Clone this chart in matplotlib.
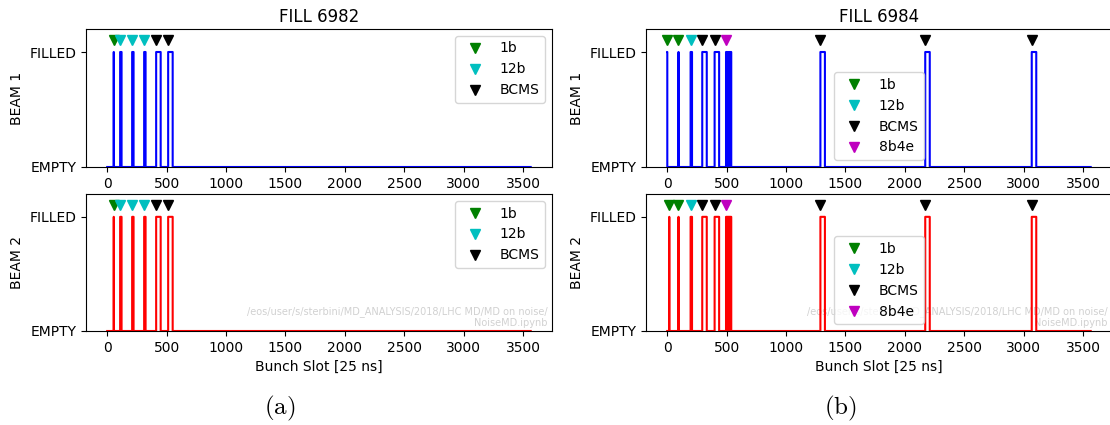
"""Filling schemes of fills 6982 and 6984, beam 1 / beam 2."""
import numpy as np
import matplotlib
matplotlib.use("Agg")
import matplotlib.pyplot as plt

plt.rcParams["mathtext.fontset"] = "cm"

N_SLOTS = 3564

# train start slots and train types
fill_6982_b1_starts = [55, 109, 210, 311, 412, 513]
fill_6982_b2_starts = [55, 109, 210, 311, 412, 513]
fill_6982_types = ["1b", "12b", "12b", "12b", "BCMS", "BCMS"]

fill_6984_b1_starts = [0, 95, 197, 295, 399, 495, 1289, 2171, 3067]
fill_6984_b2_starts = [17, 95, 197, 295, 399, 495, 1289, 2171, 3067]
fill_6984_types = ["1b", "1b", "12b", "BCMS", "BCMS", "8b4e", "BCMS", "BCMS", "BCMS"]

# bunch pattern of each train type (1 = filled slot)
train_patterns = {
    "1b": [1],
    "12b": [1] * 12,
    "BCMS": [1] * 38,
    "8b4e": ([1] * 8 + [0] * 4) * 3 + [1] * 8,
}
type_colors = {"1b": "g", "12b": "c", "BCMS": "k", "8b4e": "m"}
type_order = ["1b", "12b", "BCMS", "8b4e"]

WATERMARK = "/eos/user/s/sterbini/MD_ANALYSIS/2018/LHC MD/MD on noise/\nNoiseMD.ipynb"


def build_pattern(starts, types):
    pat = np.zeros(N_SLOTS)
    for s, t in zip(starts, types):
        p = train_patterns[t]
        pat[s:s + len(p)] = p
    return pat


def draw(ax, starts, types, color, legend_loc):
    pat = build_pattern(starts, types)
    ax.plot(np.arange(N_SLOTS), pat, color=color, lw=1.5, drawstyle="steps-post")
    for t in type_order:
        xs = [s for s, tt in zip(starts, types) if tt == t]
        if xs:
            ax.plot(xs, [1.1] * len(xs), "v", color=type_colors[t], ms=7,
                    ls="none", label=t)
    ax.set_xlim(-0.05 * N_SLOTS, 1.05 * N_SLOTS)
    ax.set_ylim(0, 1.2)
    ax.set_yticks([0, 1])
    ax.set_yticklabels(["EMPTY", "FILLED"])
    ax.set_xticks(np.arange(0, 3501, 500))
    ax.tick_params(labelsize=10)
    ax.legend(loc=legend_loc, fontsize=10)


fig = plt.figure(figsize=(11.1, 4.25), dpi=100)
W, H = 1110, 425
cols = [(86, "FILL 6982", fill_6982_b1_starts, fill_6982_b2_starts, fill_6982_types, "upper right"),
        (646, "FILL 6984", fill_6984_b1_starts, fill_6984_b2_starts, fill_6984_types, "lower center")]
for x0, title, b1, b2, types, loc in cols:
    a1 = fig.add_axes([x0 / W, (H - 167) / H, 466 / W, 138 / H])
    a2 = fig.add_axes([x0 / W, (H - 331) / H, 466 / W, 137 / H])
    draw(a1, b1, types, "b", loc)
    draw(a2, b2, types, "r", loc)
    a1.set_title(title, fontsize=12, pad=5)
    a1.set_ylabel("BEAM 1", fontsize=10)
    a2.set_ylabel("BEAM 2", fontsize=10)
    a2.set_xlabel("Bunch Slot [25 ns]", fontsize=10)
    a2.text(0.99, 0.02, WATERMARK, transform=a2.transAxes, ha="right", va="bottom",
            fontsize=7, color="0.82", multialignment="right", zorder=0)

fig.text(280 / W, (H - 408) / H, r"$\mathrm{(a)}$", fontsize=18, ha="center", va="center")
fig.text(840 / W, (H - 408) / H, r"$\mathrm{(b)}$", fontsize=18, ha="center", va="center")

fig.savefig("out.png", dpi=100)
